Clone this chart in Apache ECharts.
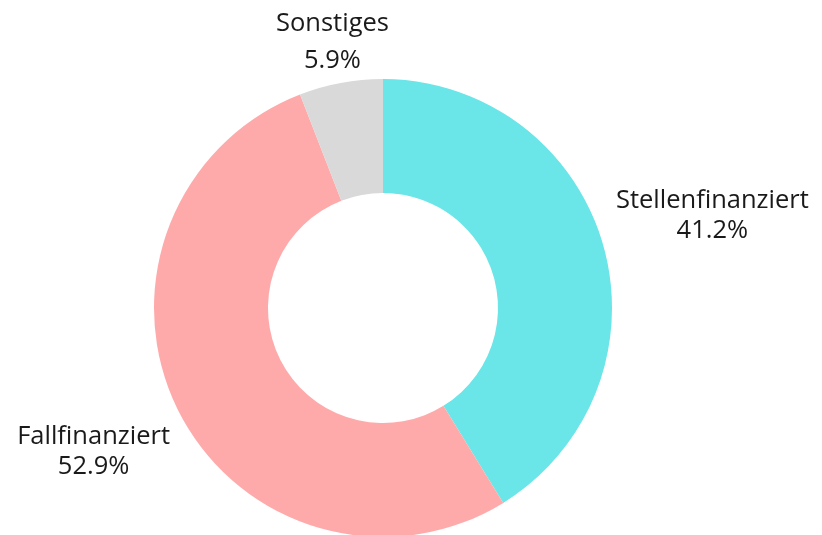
<!DOCTYPE html>
<html>
<head>
<meta charset="utf-8">
<script src="https://cdn.jsdelivr.net/npm/echarts@6/dist/echarts.min.js"></script>
<style>html,body{margin:0;padding:0;background:#fff;}#c{width:822px;height:535px;}</style>
</head>
<body>
<div id="c"></div>
<script>
const categories = ['Stellenfinanziert', 'Fallfinanziert', 'Sonstiges'];
const values = [41.2, 52.9, 5.9];
const colors = ['#6ae5e8', '#ffaaaa', '#d9d9d9'];
// label nudges relative to ECharts' own outside-label placement
const labelDx = [-2, 6, 55];
const labelDy = [-27, 37, -31];
const labelLineHeights = [30, 30, 37];

const chart = echarts.init(document.getElementById('c'), null, {renderer: 'canvas'});
chart.setOption({
  animation: false,
  series: [{
    type: 'pie',
    center: [383, 308],
    radius: [115, 229],
    startAngle: 90,
    clockwise: true,
    avoidLabelOverlap: false,
    data: categories.map((n, i) => ({
      name: n, value: values[i],
      itemStyle: {color: colors[i]},
      label: {lineHeight: labelLineHeights[i]}
    })),
    label: {
      show: true,
      position: 'outside',
      formatter: p => p.name + '\n' + p.value.toFixed(1) + '%',
      fontFamily: 'Open Sans',
      fontSize: 25.5,
      lineHeight: 30,
      color: '#1a1a1a'
    },
    labelLine: {show: false, length: 10, length2: 0},
    labelLayout: p => {
      const r = p.labelRect;
      return {
        x: r.x + r.width / 2 + labelDx[p.dataIndex],
        y: r.y + r.height / 2 + labelDy[p.dataIndex],
        align: 'center',
        verticalAlign: 'middle'
      };
    },
    emphasis: {disabled: true}
  }]
});
</script>
</body>
</html>
